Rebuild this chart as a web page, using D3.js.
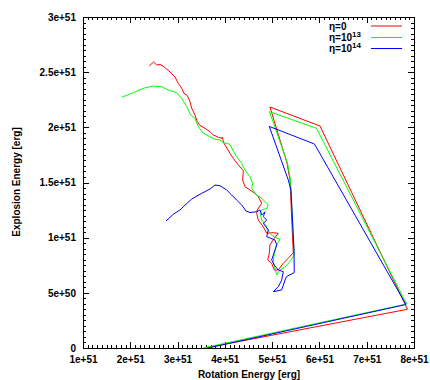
<!DOCTYPE html>
<html><head><meta charset="utf-8">
<script src="https://cdn.jsdelivr.net/npm/d3@7"></script>
<style>body{margin:0;background:#fff}svg{display:block}text{font-family:"Liberation Sans",Arial,sans-serif;font-weight:bold;font-size:10px}</style>
</head><body>
<script>
// values in units of 1e51 erg
const xTickValues = [1,2,3,4,5,6,7,8];
const xTickLabels = ["1e+51","2e+51","3e+51","4e+51","5e+51","6e+51","7e+51","8e+51"];
const yTickValues = [0,0.5,1,1.5,2,2.5,3];
const yTickLabels = ["0","5e+50","1e+51","1.5e+51","2e+51","2.5e+51","3e+51"];
const seriesNames = ["η=0","η=10","η=10"];
const seriesSup = ["","13","14"];
const seriesColors = ["#ff0000","#00ff00","#0000ff"];

const rotRed = [2.402,2.491,2.558,2.628,2.692,2.755,2.840,2.945,3.015,3.087,3.136,3.206,3.263,3.299,3.368,3.417,3.474,3.580,3.686,3.755,3.861,3.933,3.950,3.967,4.003,4.108,4.178,4.284,4.390,4.377,4.426,4.531,4.637,4.707,4.779,4.686,4.673,4.707,4.813,4.885,5.024,5.130,5.045,4.954,4.940,4.906,4.990,5.045,5.130,5.236,5.341,5.447,5.377,5.314,4.954,6.012,7.862,3.580];
const expRed = [2.556,2.592,2.565,2.570,2.556,2.533,2.502,2.456,2.399,2.354,2.308,2.289,2.232,2.173,2.112,2.051,2.017,1.991,1.960,1.931,1.910,1.901,1.912,1.867,1.840,1.765,1.719,1.659,1.607,1.523,1.462,1.432,1.402,1.371,1.312,1.251,1.221,1.160,1.099,1.040,1.045,1.040,0.994,0.934,0.858,0.798,0.768,0.707,0.707,0.768,0.813,0.864,1.523,1.677,2.184,2.012,0.351,0.0];

const rotGreen = [1.818,2.064,2.275,2.487,2.664,2.804,2.981,3.087,3.193,3.277,3.368,3.438,3.544,3.686,3.791,3.897,3.967,4.108,4.166,4.250,4.356,4.426,4.531,4.589,4.567,4.673,4.779,4.918,4.885,4.779,4.743,4.779,4.885,4.954,5.024,5.166,5.096,5.045,5.024,5.096,5.166,5.272,5.377,5.468,5.388,5.324,4.944,5.938,7.845,3.540];
const expGreen = [2.272,2.314,2.354,2.375,2.368,2.338,2.314,2.263,2.187,2.112,2.082,2.006,1.946,1.915,1.892,1.885,1.861,1.846,1.795,1.734,1.674,1.613,1.553,1.493,1.447,1.387,1.357,1.296,1.266,1.251,1.221,1.160,1.099,1.040,1.009,0.985,0.934,0.858,0.782,0.662,0.707,0.737,0.782,0.843,1.523,1.677,2.142,1.991,0.399,0.0];

const rotBlue = [2.755,2.909,3.051,3.121,3.299,3.510,3.686,3.791,3.897,4.039,4.144,4.250,4.356,4.447,4.531,4.673,4.743,4.779,4.849,4.813,4.885,4.813,4.918,4.885,5.060,5.096,5.060,4.990,5.045,5.130,5.236,5.202,5.130,5.024,5.202,5.272,5.307,5.468,5.462,5.398,5.341,4.940,5.895,7.830,3.643];
const expBlue = [1.151,1.212,1.251,1.281,1.350,1.402,1.441,1.477,1.471,1.432,1.387,1.341,1.296,1.242,1.228,1.235,1.251,1.205,1.235,1.190,1.160,1.130,1.070,1.009,0.979,0.934,0.888,0.798,0.752,0.707,0.692,0.616,0.556,0.510,0.526,0.616,0.648,0.684,0.888,1.432,1.523,2.008,1.849,0.394,0.0];

const W=430,H=380, L=83, R=414, T=17, B=348;
const x = d3.scaleLinear().domain([1,8]).range([L,R]);
const y = d3.scaleLinear().domain([0,3]).range([B,T]);

const svg = d3.select("body").append("svg").attr("width",W).attr("height",H);
svg.append("defs").append("clipPath").attr("id","clip")
  .append("rect").attr("x",L).attr("y",T).attr("width",R-L).attr("height",B-T);

// minor & major ticks (inward, mirrored)
const g = svg.append("g").attr("stroke","#000").attr("stroke-width",1).attr("shape-rendering","crispEdges");
const xMinor = d3.range(1,8.0001,0.1);
const yMinor = d3.range(0,3.0001,0.05);
xMinor.forEach(v=>{
  const px=Math.round(x(v))+0.5; const isMaj = Math.abs(v-Math.round(v))<1e-6; const len=isMaj?6:3;
  g.append("line").attr("x1",px).attr("x2",px).attr("y1",B).attr("y2",B-len);
  g.append("line").attr("x1",px).attr("x2",px).attr("y1",T).attr("y2",T+len);
});
yMinor.forEach(v=>{
  const py=Math.round(y(v))+0.5; const isMaj = Math.abs(v*2-Math.round(v*2))<1e-6; const len=isMaj?6:3;
  g.append("line").attr("x1",L).attr("x2",L+len).attr("y1",py).attr("y2",py);
  g.append("line").attr("x1",R).attr("x2",R-len).attr("y1",py).attr("y2",py);
});

// tick labels via axes
const xAxis = d3.axisBottom(x).tickValues(xTickValues).tickFormat((d,i)=>xTickLabels[i]).tickSize(0).tickPadding(8);
const yAxis = d3.axisLeft(y).tickValues(yTickValues).tickFormat((d,i)=>yTickLabels[i]).tickSize(0).tickPadding(7);
const ax = svg.append("g").attr("transform",`translate(0,${B})`).call(xAxis);
const ay = svg.append("g").attr("transform",`translate(${L},0)`).call(yAxis);
[ax,ay].forEach(a=>{a.select(".domain").remove(); a.selectAll("text").attr("fill","#000").style("font-size","10px").style("font-family","'Liberation Sans',Arial,sans-serif").style("font-weight","bold");});

// frame
svg.append("rect").attr("x",L+0.5).attr("y",T+0.5).attr("width",R-L).attr("height",B-T)
  .attr("fill","none").attr("stroke","#000").attr("shape-rendering","crispEdges");

// axis titles
svg.append("text").attr("x",249).attr("y",378).attr("text-anchor","middle").text("Rotation Energy [erg]");
svg.append("text").attr("transform","translate(20,182) rotate(-90)").attr("text-anchor","middle").text("Explosion Energy [erg]");

// lines
const series = [[rotRed,expRed],[rotGreen,expGreen],[rotBlue,expBlue]];
const line = d3.line().x(d=>x(d[0])).y(d=>y(d[1]));
const lg = svg.append("g").attr("clip-path","url(#clip)");
series.forEach((s,i)=>{
  const pts = s[0].map((v,j)=>[v,s[1][j]]);
  lg.append("path").datum(pts).attr("d",line).attr("fill","none").attr("stroke",seriesColors[i]).attr("stroke-width",1);
});

// legend
const legY=[26,37.5,48.5];
seriesNames.forEach((n,i)=>{
  const t = svg.append("text").attr("x",329).attr("y",legY[i]+3.5);
  t.append("tspan").text(n);
  if(seriesSup[i]) t.append("tspan").attr("dy",-4).style("font-size","8px").text(seriesSup[i]);
  svg.append("line").attr("x1",371).attr("x2",402).attr("y1",legY[i]).attr("y2",legY[i])
    .attr("stroke",seriesColors[i]).attr("stroke-width",1);
});
</script>
</body></html>
